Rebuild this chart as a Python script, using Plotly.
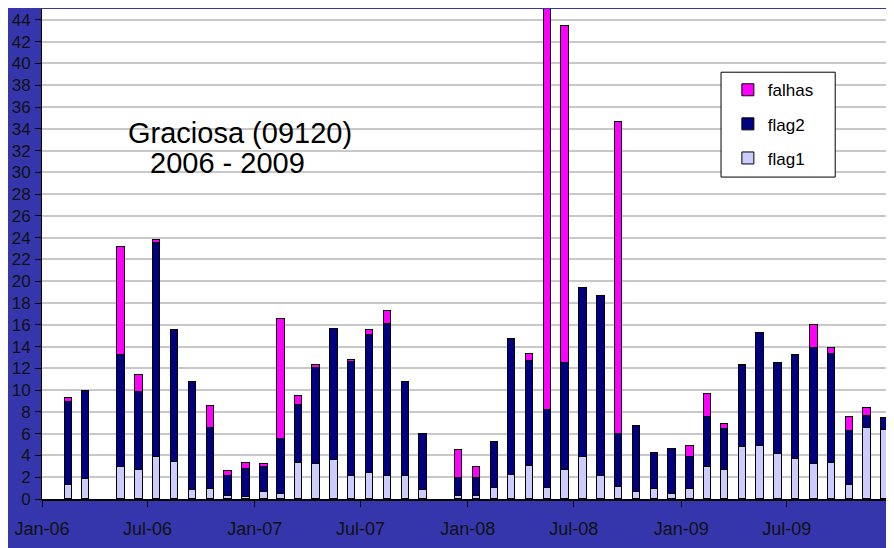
import plotly.graph_objects as go

months = ["2006-02", "2006-03", "2006-05", "2006-06", "2006-07", "2006-08", "2006-09",
          "2006-10", "2006-11", "2006-12", "2007-01", "2007-02", "2007-03", "2007-04",
          "2007-05", "2007-06", "2007-07", "2007-08", "2007-09", "2007-10", "2007-12",
          "2008-01", "2008-02", "2008-03", "2008-04", "2008-05", "2008-06", "2008-07",
          "2008-08", "2008-09", "2008-10", "2008-11", "2008-12", "2009-01", "2009-02",
          "2009-03", "2009-04", "2009-05", "2009-06", "2009-07", "2009-08", "2009-09",
          "2009-10", "2009-11", "2009-12"]

flag1 = [1.3, 1.85, 2.95, 2.65, 3.85, 3.4, 0.85, 0.9, 0.25, 0.15, 0.65, 0.5, 3.35, 3.25,
         3.55, 2.1, 2.35, 2.1, 2.1, 0.85, 0.3, 0.3, 1.05, 2.2, 3.05, 1.05, 2.7, 3.9,
         2.1, 1.1, 0.65, 0.95, 0.45, 0.95, 2.9, 2.7, 4.75, 4.85, 4.1, 3.7, 3.25, 3.35,
         1.3, 6.5, 6.35]
flag2 = [7.65, 8.1, 10.3, 7.2, 19.7, 12.1, 9.9, 5.65, 1.9, 2.65, 2.25, 5.05, 5.25, 8.8,
         12.05, 10.5, 12.7, 14.0, 8.6, 5.1, 1.65, 1.65, 4.2, 12.5, 9.6, 7.15, 9.75, 15.5,
         16.5, 4.85, 6.05, 3.3, 4.15, 2.95, 4.6, 3.7, 7.5, 10.4, 8.35, 9.5, 10.65, 10.0,
         4.95, 1.15, 1.05]
falhas = [0.37, 0, 9.9, 1.55, 0.2, 0, 0, 1.95, 0.4, 0.5, 0.3, 11.0, 0.9, 0.25,
          0, 0.2, 0.45, 1.15, 0, 0, 2.55, 0.95, 0, 0, 0.7, 37.8, 30.95, 0,
          0, 28.65, 0, 0, 0, 0.95, 2.1, 0.5, 0.1, 0, 0, 0, 2.1, 0.5,
          1.3, 0.7, 0.05]

series = [("flag1", flag1, "#CCCCFF", 3), ("flag2", flag2, "#000080", 2),
          ("falhas", falhas, "#FF00FF", 1)]

fig = go.Figure()
bar_w = 0.42 * 30.4 * 24 * 3600 * 1000
for name, vals, col, rank in series:
    fig.add_trace(go.Bar(
        x=months, y=vals, name=name, legendgroup=name, legendrank=rank,
        xperiod="M1", xperiodalignment="middle", width=bar_w,
        marker=dict(color=col, line=dict(color="#000000", width=1)),
    ))

title_font = dict(family="Liberation Sans, Arial", size=29, color="#000000")
fig.add_annotation(text="Graciosa (09120)", xref="paper", yref="paper",
                   x=0.232, y=0.747, showarrow=False, font=title_font,
                   xanchor="center", yanchor="middle")
fig.add_annotation(text="2006 - 2009", xref="paper", yref="paper",
                   x=0.218, y=0.686, showarrow=False, font=title_font,
                   xanchor="center", yanchor="middle")

# legend frame
fig.add_shape(type="rect", xref="paper", yref="paper",
              x0=0.797, x1=0.931, y0=0.657, y1=0.871,
              fillcolor="#FFFFFF", line=dict(color="#000000", width=1), layer="above")

fig.update_layout(
    width=894, height=548,
    barmode="stack", bargap=0,
    paper_bgcolor="#3636AC", plot_bgcolor="#FFFFFF",
    margin=dict(l=34, r=8, t=1, b=57),
    font=dict(family="Liberation Sans, Arial", color="#111111"),
    legend=dict(traceorder="grouped", tracegroupgap=9,
                x=0.805, y=0.871, xanchor="left", yanchor="top",
                bgcolor="rgba(0,0,0,0)", borderwidth=0,
                font=dict(size=17, color="#000000"), itemwidth=30),
    xaxis=dict(type="date", range=["2006-01-01", "2010-01-01"], tick0="2006-01-01",
               dtick="M6", tickformat="%b-%y", ticks="outside", ticklen=6,
               tickcolor="#000000", showgrid=False, showline=True, linecolor="#000000",
               linewidth=2, automargin=False, ticklabelstandoff=6,
               tickfont=dict(size=18, color="#111111")),
    yaxis=dict(range=[0, 45], dtick=2, ticks="outside", ticklen=6, tickcolor="#000000",
               showgrid=True, gridcolor="#C8C8C8", gridwidth=2, showline=True,
               linecolor="#000000", linewidth=1, zeroline=False, automargin=False,
               ticklabelstandoff=1, tickfont=dict(size=17, color="#111111")),
)

fig.write_html("out.html")
